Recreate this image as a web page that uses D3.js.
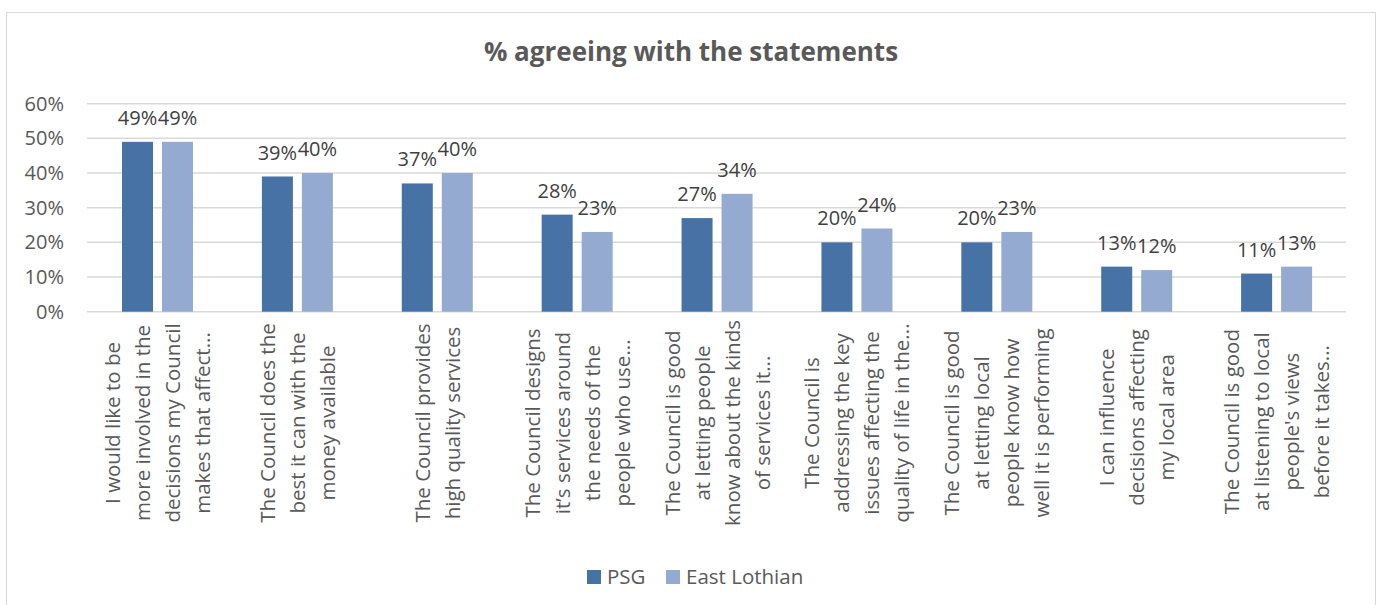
<!DOCTYPE html>
<html><head><meta charset="utf-8">
<script src="https://cdn.jsdelivr.net/npm/d3@7/dist/d3.min.js"></script>
<style>body{margin:0;background:#fff}svg{display:block}text{font-family:"Open Sans",sans-serif}</style>
</head><body><svg id="c" width="1380" height="605"></svg>
<script>
const categories = [
  ["I would like to be","more involved in the","decisions my Council","makes that affect..."],
  ["The Council does the","best it can with the","money available"],
  ["The Council provides","high quality services"],
  ["The Council designs","it\u2019s services around","the needs of the","people who use..."],
  ["The Council is good","at letting people","know about the kinds","of services it..."],
  ["The Council is","addressing the key","issues affecting the","quality of life in the..."],
  ["The Council is good","at letting local","people know how","well it is performing"],
  ["I can influence","decisions affecting","my local area"],
  ["The Council is good","at listening to local","people's views","before it takes..."]
];
const seriesNames = ["PSG","East Lothian"];
const psg = [49,39,37,28,27,20,20,13,11];
const eastLothian = [49,40,40,23,34,24,23,12,13];
const yTicks = [0,10,20,30,40,50,60];
const colors = ["#4672A6","#95AAD0"];

const svg = d3.select("#c");
svg.append("rect").attr("x",6.5).attr("y",12.5).attr("width",1369).attr("height",600)
  .attr("fill","#fff").attr("stroke","#d9d9d9");

svg.append("text").attr("x",691).attr("y",61).attr("text-anchor","middle")
  .attr("font-size",26).attr("font-weight","bold").attr("fill","#595959")
  .text("% agreeing with the statements");

const x0 = d3.scaleBand().domain(d3.range(categories.length)).range([87,1346]).paddingInner(0).paddingOuter(0);
const y = d3.scaleLinear().domain([0,60]).range([311.7,103.7]);
const x1 = d3.scaleBand().domain([0,1]).range([35,106]).paddingInner(0.225);

const grid = svg.append("g");
grid.selectAll("line").data(yTicks).join("line")
  .attr("x1",87).attr("x2",1346).attr("y1",d=>y(d)).attr("y2",d=>y(d))
  .attr("stroke","#d9d9d9").attr("stroke-width",1.5);

const yAxis = d3.axisLeft(y).tickValues(yTicks).tickFormat(d=>d+"%").tickSize(0).tickPadding(0);
const ya = svg.append("g").attr("transform","translate(64,0)").call(yAxis);
ya.select(".domain").remove();
ya.selectAll("text").attr("font-size",20).attr("fill","#595959").attr("font-family","Open Sans");

const series = [psg, eastLothian];
const groups = svg.append("g").selectAll("g").data(categories).join("g")
  .attr("transform",(d,i)=>`translate(${x0(i)},0)`);
series.forEach((vals,s)=>{
  groups.append("rect")
    .attr("x",x1(s)).attr("width",x1.bandwidth())
    .attr("y",(d,i)=>y(vals[i])).attr("height",(d,i)=>y(0)-y(vals[i]))
    .attr("fill",colors[s]);
});
series.forEach((vals,s)=>{
  groups.append("text")
    .attr("x",x1(s)+x1.bandwidth()/2).attr("y",(d,i)=>y(vals[i])-17)
    .attr("text-anchor","middle").attr("font-size",20).attr("fill","#404040")
    .text((d,i)=>vals[i]+"%");
});

// category labels
const lh = 30;
groups.each(function(lines,i){
  const g = d3.select(this);
  const cx = x0.bandwidth()/2;
  const tmp = g.append("g");
  const texts = tmp.selectAll("text").data(lines).join("text")
    .attr("font-size",20.5).attr("fill","#595959").attr("text-anchor","middle")
    .attr("dominant-baseline","central").text(d=>d);
  let maxW = 0;
  texts.each(function(){ maxW = Math.max(maxW, this.getComputedTextLength()); });
  maxW = Math.min(maxW, 188);
  const cy = 329 + maxW/2;
  tmp.attr("transform",`translate(${cx},${cy}) rotate(-90)`);
  const n = lines.length;
  texts.attr("x",0).attr("y",(d,k)=>(k-(n-1)/2)*lh);
});

// legend
const legend = svg.append("g");
const items = [{x:587,name:seriesNames[0],c:colors[0]},{x:666,name:seriesNames[1],c:colors[1]}];
items.forEach(it=>{
  legend.append("rect").attr("x",it.x).attr("y",570).attr("width",14).attr("height",14).attr("fill",it.c);
  legend.append("text").attr("x",it.x+20).attr("y",584).attr("font-size",20.5).attr("fill","#595959").text(it.name);
});
</script></body></html>
